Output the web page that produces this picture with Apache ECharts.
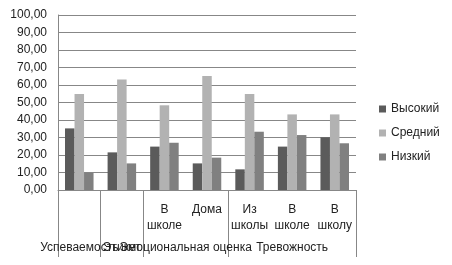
<!DOCTYPE html>
<html>
<head>
<meta charset="utf-8">
<script src="https://cdn.jsdelivr.net/npm/echarts@6/dist/echarts.min.js"></script>
<style>
  html, body { margin: 0; padding: 0; background: #fff; }
  #chart { width: 452px; height: 265px; }
</style>
</head>
<body>
<div id="chart"></div>
<script>
// подписи категорий (нижний уровень)
const categories = ['', '', 'В\nшколе', 'Дома', 'Из\nшколы', 'В\nшколе', 'В\nшколу'];
// группы (верхний уровень): центр и границы в единицах категорий
const groupNames = ['Успеваемость', 'Этикет', 'Эмоциональная оценка', 'Тревожность'];
const groupCenters = [0.5, 1.5, 3, 5.5];
const groupBounds = [0, 1, 2, 4, 7];

const seriesNames = ['Высокий', 'Средний', 'Низкий'];
const high = [35.2, 21.5, 24.8, 15.2, 11.8, 24.8, 30.1];
const mid = [54.9, 63.2, 48.4, 65.1, 54.9, 43.2, 43.2];
const low = [9.9, 15.2, 27.0, 18.5, 33.3, 31.4, 26.7];
const colors = ['#5b5b5b', '#b2b2b2', '#808080'];

const font = 'Liberation Sans';
const gridColor = '#878787';

// ось для подписей групп; подписи, которые налезают друг на друга, разносим по разным осям
function groupAxis(idx, withTicks) {
    return {
        type: 'value',
        position: 'bottom',
        min: 0,
        max: 7,
        axisLine: { show: false },
        splitLine: { show: false },
        axisTick: {
            show: withTicks, length: 67, customValues: groupBounds,
            lineStyle: { color: gridColor }
        },
        axisLabel: {
            margin: 52, fontSize: 12, color: '#222', fontFamily: font,
            hideOverlap: false,
            customValues: idx.map(function (i) { return groupCenters[i]; }),
            formatter: function (v) {
                return groupNames[groupCenters.indexOf(v)] || '';
            }
        }
    };
}

var myChart = echarts.init(document.getElementById('chart'));
const option = {
    animation: false,
    textStyle: { fontFamily: font },
    grid: { left: 58, right: 96, top: 15, bottom: 75 },
    legend: {
        orient: 'vertical',
        left: 374,
        top: 98,
        itemWidth: 7,
        itemHeight: 7,
        itemGap: 12,
        icon: 'rect',
        textStyle: { fontFamily: font, fontSize: 12, color: '#222' },
        data: seriesNames
    },
    xAxis: [
        {
            type: 'category',
            data: categories,
            axisLine: { lineStyle: { color: gridColor } },
            axisTick: { length: 42, interval: 0, lineStyle: { color: gridColor } },
            axisLabel: {
                interval: 0, margin: 12, lineHeight: 16,
                fontSize: 12, color: '#222', fontFamily: font
            }
        },
        groupAxis([0, 2, 3], true),
        groupAxis([1], false)
    ],
    yAxis: {
        type: 'value',
        min: 0,
        max: 100,
        interval: 10,
        axisLine: { show: true, lineStyle: { color: gridColor } },
        axisTick: { show: false },
        splitLine: { lineStyle: { color: gridColor } },
        axisLabel: {
            margin: 11, fontSize: 12, color: '#222', fontFamily: font,
            formatter: function (v) { return v.toFixed(2).replace('.', ','); }
        }
    },
    series: [
        { name: seriesNames[0], type: 'bar', data: high, itemStyle: { color: colors[0] }, barGap: 0, barCategoryGap: '33%' },
        { name: seriesNames[1], type: 'bar', data: mid, itemStyle: { color: colors[1] }, barGap: 0, barCategoryGap: '33%' },
        { name: seriesNames[2], type: 'bar', data: low, itemStyle: { color: colors[2] }, barGap: 0, barCategoryGap: '33%' }
    ]
};
myChart.setOption(option);
</script>
</body>
</html>
